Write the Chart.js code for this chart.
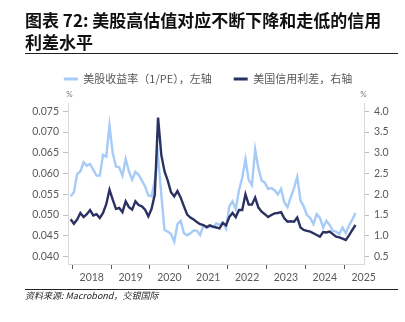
<!DOCTYPE html>
<html>
<head>
<meta charset="utf-8">
<script src="https://cdn.jsdelivr.net/npm/chart.js@4.4.0/dist/chart.umd.min.js"></script>
<style>
  html, body { margin: 0; padding: 0; background: #fff; }
  #wrap { position: relative; width: 405px; height: 322px; overflow: hidden; }
  #c { position: absolute; left: 0; top: 0; }
  #title {
    position: absolute; left: 25px; top: 9px;
    font-family: "Noto Sans CJK SC", sans-serif; font-weight: 700;
    font-size: 17px; line-height: 22px; color: #111; white-space: nowrap;
  }
  .rule { position: absolute; left: 25px; width: 373px; height: 0; border-top: 1.5px solid #222; }
  #src {
    position: absolute; left: 25px; top: 290px;
    font-family: "Noto Sans CJK SC", sans-serif; font-style: italic;
    font-size: 9px; line-height: 12px; color: #222; white-space: nowrap;
  }
</style>
</head>
<body>
<div id="wrap">
  <canvas id="c" width="405" height="322"></canvas>
  <div id="title">图表 72: 美股高估值对应不断下降和走低的信用<br>利差水平</div>
  <div class="rule" style="top:53px"></div>
  <div class="rule" style="top:288.5px"></div>
  <div id="src">资料来源: Macrobond，交银国际</div>
</div>
<script>
// Monthly observations, Dec 2017 – Apr 2025
const firstMonth = [2017, 12];
const lastMonth = [2025, 4];

// S&P 500 earnings yield (1/PE), left axis
const earningsYield = [
  0.0545,
  0.0555, 0.0599, 0.0605, 0.0627, 0.0619, 0.0623, 0.0609, 0.0595, 0.0595, 0.0645, 0.0641, 0.0716,
  0.0649, 0.0617, 0.0615, 0.0595, 0.0635, 0.0605, 0.0585, 0.0604, 0.0597, 0.0583, 0.0569, 0.0547,
  0.0545, 0.0585, 0.0641, 0.0549, 0.0464, 0.0460, 0.0454, 0.0436, 0.0478, 0.0486, 0.0456, 0.0451,
  0.0456, 0.0463, 0.0462, 0.0452, 0.0475, 0.0469, 0.0472, 0.0470, 0.0480, 0.0476, 0.0483, 0.0468,
  0.0521, 0.0533, 0.0514, 0.0560, 0.0590, 0.0635, 0.0585, 0.0572, 0.0658, 0.0613, 0.0583, 0.0578,
  0.0563, 0.0565, 0.0560, 0.0550, 0.0563, 0.0531, 0.0519, 0.0543, 0.0565, 0.0592, 0.0535, 0.0521,
  0.0500, 0.0493, 0.0478, 0.0502, 0.0493, 0.0470, 0.0486, 0.0476, 0.0462, 0.0460, 0.0454, 0.0470,
  0.0456, 0.0475, 0.0489, 0.0505
];

// US credit spread (%), right axis
const creditSpread = [
  1.40,
  1.29, 1.39, 1.55, 1.45, 1.52, 1.62, 1.49, 1.52, 1.43, 1.55, 1.76, 2.11,
  1.87, 1.65, 1.67, 1.57, 1.83, 1.69, 1.63, 1.83, 1.74, 1.71, 1.63, 1.47,
  1.65, 2.00, 3.85, 2.95, 2.55, 2.33, 2.05, 1.95, 2.08, 1.92, 1.71, 1.51,
  1.44, 1.39, 1.33, 1.28, 1.26, 1.21, 1.25, 1.22, 1.20, 1.18, 1.31, 1.25,
  1.45, 1.55, 1.45, 1.62, 1.62, 2.00, 1.75, 1.75, 1.92, 1.68, 1.58, 1.52,
  1.45, 1.50, 1.54, 1.55, 1.57, 1.42, 1.34, 1.35, 1.34, 1.44, 1.20, 1.14,
  1.12, 1.10, 1.06, 1.02, 0.98, 1.09, 1.08, 1.10, 1.04, 0.98, 0.96, 0.93,
  0.90, 1.01, 1.14, 1.26
];

// Axis ticks
const yearTicks = [2018, 2019, 2020, 2021, 2022, 2023, 2024, 2025];
const leftTicks = [0.040, 0.045, 0.050, 0.055, 0.060, 0.065, 0.070, 0.075];
const rightTicks = [0.5, 1.0, 1.5, 2.0, 2.5, 3.0, 3.5, 4.0];
const unitText = '%';

const seriesNames = ['美股收益率（1/PE），左轴', '美国信用利差，右轴'];
const seriesColors = ['#A6CBF6', '#2B3161'];

// Mid-month position of every observation in fractional years
const monthPos = [];
for (let y = firstMonth[0], m = firstMonth[1]; y < lastMonth[0] || (y === lastMonth[0] && m <= lastMonth[1]); ) {
  monthPos.push(y + (m - 0.5) / 12);
  m++;
  if (m > 12) { m = 1; y++; }
}

const toPoints = vals => vals.map((v, i) => ({ x: monthPos[i], y: v }));

const tickFont = { family: 'Lato, "Open Sans", sans-serif', size: 10.5 };
const tickColor = '#595959';

// Small "%" unit marks above both value axes
const unitLabels = {
  id: 'unitLabels',
  afterDraw(chart) {
    const { ctx, chartArea, scales } = chart;
    ctx.save();
    ctx.font = '8px Lato, sans-serif';
    ctx.fillStyle = '#7f7f7f';
    ctx.textAlign = 'center';
    ctx.textBaseline = 'middle';
    ctx.fillText(unitText, scales.yL.right + 1.5, chartArea.top - 9);
    ctx.fillText(unitText, scales.yR.left - 0.5, chartArea.top - 9);
    ctx.restore();
  }
};

new Chart(document.getElementById('c'), {
  type: 'line',
  data: {
    datasets: [
      {
        label: seriesNames[0],
        data: toPoints(earningsYield),
        yAxisID: 'yL',
        borderColor: seriesColors[0],
        backgroundColor: seriesColors[0],
        borderWidth: 2.4,
        pointRadius: 0,
        tension: 0,
        order: 1
      },
      {
        label: seriesNames[1],
        data: toPoints(creditSpread),
        yAxisID: 'yR',
        borderColor: seriesColors[1],
        backgroundColor: seriesColors[1],
        borderWidth: 2.4,
        pointRadius: 0,
        tension: 0,
        order: 0
      }
    ]
  },
  options: {
    responsive: false,
    animation: false,
    devicePixelRatio: 1,
    layout: { padding: { top: 51.5, left: 11, right: 0, bottom: 32 } },
    plugins: {
      legend: {
        position: 'top',
        labels: {
          boxWidth: 14,
          boxHeight: 3,
          padding: 22,
          color: '#595959',
          font: { family: '"Noto Sans CJK SC", sans-serif', size: 11 },
          sort: (a, b) => a.datasetIndex - b.datasetIndex,
          generateLabels: chart =>
            Chart.defaults.plugins.legend.labels.generateLabels(chart)
              .map(item => Object.assign(item, { lineWidth: 0 }))
        }
      },
      // empty band between legend and plot, leaves room for the unit marks
      title: { display: true, text: '', padding: 0, font: { size: 8.5, lineHeight: 1 }, weight: 500 },
      tooltip: { enabled: false }
    },
    scales: {
      x: {
        type: 'linear',
        position: 'bottom',
        min: 2017.89,
        max: 2025.51,
        afterBuildTicks: s => { s.ticks = yearTicks.map(v => ({ value: v })); },
        afterFit: s => { s.height = 26; },
        ticks: {
          autoSkip: false,
          maxRotation: 0,
          labelOffset: 19.45,
          padding: 2,
          color: tickColor,
          font: tickFont,
          callback: v => String(v)
        },
        grid: { drawOnChartArea: false, drawTicks: true, tickLength: 5, tickColor: '#595959' },
        border: { display: true, color: '#d9d9d9' }
      },
      yL: {
        type: 'linear',
        position: 'left',
        bounds: 'data',
        min: 0.0382,
        max: 0.0770,
        afterBuildTicks: s => { s.ticks = leftTicks.map(v => ({ value: v })); },
        afterFit: s => { s.width = 57; },
        ticks: { padding: 4, color: tickColor, font: tickFont, callback: v => v.toFixed(3) },
        grid: { drawOnChartArea: false, drawTicks: true, tickLength: 5, tickColor: '#bfbfbf' },
        border: { display: true, color: '#d9d9d9' }
      },
      yR: {
        type: 'linear',
        position: 'right',
        bounds: 'data',
        min: 0.32,
        max: 4.20,
        afterBuildTicks: s => { s.ticks = rightTicks.map(v => ({ value: v })); },
        afterFit: s => { s.width = 41; },
        ticks: { padding: 5, color: tickColor, font: tickFont, callback: v => v.toFixed(1) },
        grid: { drawOnChartArea: false, drawTicks: true, tickLength: 5, tickColor: '#bfbfbf' },
        border: { display: true, color: '#d9d9d9' }
      }
    }
  },
  plugins: [unitLabels]
});
</script>
</body>
</html>
